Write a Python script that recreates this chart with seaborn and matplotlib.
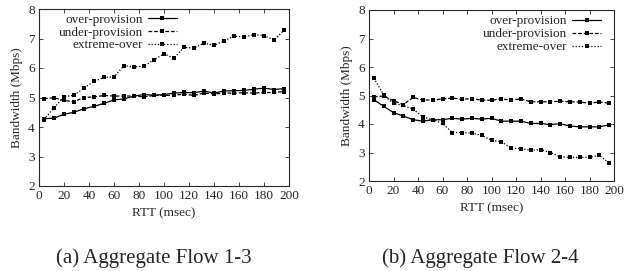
import numpy as np
import pandas as pd
import seaborn as sns
import matplotlib
matplotlib.use("Agg")
import matplotlib.pyplot as plt

rtt = [4, 12, 20, 28, 36, 44, 52, 60, 68, 76, 84, 92, 100, 108, 116, 124,
       132, 140, 148, 156, 164, 172, 180, 188, 196]

a_over = [4.28, 4.30, 4.43, 4.50, 4.62, 4.70, 4.80, 4.92, 4.95, 5.05, 5.10, 5.08, 5.10,
          5.15, 5.17, 5.16, 5.22, 5.15, 5.22, 5.23, 5.24, 5.28, 5.32, 5.27, 5.30]
a_under = [4.96, 4.99, 4.90, 4.86, 5.00, 5.02, 5.07, 5.05, 5.05, 5.05, 5.02, 5.07, 5.07,
           5.08, 5.11, 5.07, 5.15, 5.12, 5.15, 5.15, 5.16, 5.15, 5.17, 5.17, 5.20]
a_extreme = [4.25, 4.65, 5.02, 5.08, 5.32, 5.55, 5.68, 5.70, 6.08, 6.04, 6.06, 6.28, 6.48,
             6.33, 6.70, 6.68, 6.84, 6.77, 6.92, 7.08, 7.05, 7.13, 7.10, 6.95, 7.28]

b_over = [4.85, 4.62, 4.40, 4.28, 4.15, 4.10, 4.15, 4.15, 4.20, 4.17, 4.20, 4.17, 4.20,
          4.10, 4.10, 4.10, 4.02, 4.02, 3.98, 4.01, 3.93, 3.90, 3.90, 3.90, 3.97]
b_under = [4.96, 4.98, 4.82, 4.68, 4.93, 4.84, 4.84, 4.88, 4.91, 4.87, 4.89, 4.84, 4.83,
           4.88, 4.84, 4.88, 4.78, 4.78, 4.78, 4.80, 4.78, 4.77, 4.73, 4.77, 4.73]
b_extreme = [5.61, 5.02, 4.72, 4.65, 4.52, 4.25, 4.15, 4.02, 3.70, 3.70, 3.68, 3.60, 3.43,
             3.38, 3.15, 3.13, 3.08, 3.10, 3.00, 2.85, 2.83, 2.83, 2.83, 2.90, 2.62]

series_names = ["over-provision", "under-provision", "extreme-over"]
captions = ["(a) Aggregate Flow 1-3", "(b) Aggregate Flow 2-4"]
x_ticks = [0, 20, 40, 60, 80, 100, 120, 140, 160, 180, 200]
y_ticks = [2, 3, 4, 5, 6, 7, 8]

sns.set_style("ticks")
plt.rcParams["font.family"] = ["Liberation Serif", "DejaVu Serif"]
plt.rcParams["xtick.direction"] = "in"
plt.rcParams["ytick.direction"] = "in"


def make_df(vals):
    rows = []
    for name, v in zip(series_names, vals):
        for x, y in zip(rtt, v):
            rows.append({"RTT": x, "BW": y, "series": name})
    return pd.DataFrame(rows)


fig = plt.figure(figsize=(6.24, 2.71), dpi=100)
W, H = 624, 271
ax_a = fig.add_axes([39 / W, 1 - 186 / H, 250 / W, 177 / H])
ax_b = fig.add_axes([369 / W, 1 - 181 / H, 245 / W, 171 / H])

dashes = {"over-provision": "", "under-provision": (3, 1.5), "extreme-over": (1, 1.5)}
markers = {"over-provision": "s", "under-provision": "s", "extreme-over": "s"}
palette = {n: "black" for n in series_names}

FS = 9.5
for ax, vals, anchor in [
    (ax_a, [a_over, a_under, a_extreme], (0.552, 0.975)),
    (ax_b, [b_over, b_under, b_extreme], (0.947, 0.97)),
]:
    df = make_df(vals)
    sns.lineplot(data=df, x="RTT", y="BW", hue="series", style="series",
                 palette=palette, dashes=dashes, markers=markers,
                 markersize=2.2, linewidth=0.9, ax=ax, markeredgewidth=0)
    ax.set_xlim(0, 200)
    ax.set_ylim(2, 8)
    ax.set_xticks(x_ticks)
    ax.set_yticks(y_ticks)
    ax.tick_params(labelsize=FS, length=3, width=0.6, top=True, right=True, pad=3)
    ax.set_xlabel("RTT (msec)", fontsize=FS, labelpad=4)
    ax.set_ylabel("Bandwidth (Mbps)", fontsize=FS, labelpad=4)
    for s in ax.spines.values():
        s.set_linewidth(0.8)
        s.set_visible(True)
    leg = ax.legend(loc="upper right", bbox_to_anchor=anchor, frameon=False, markerfirst=False,
                    fontsize=FS, handlelength=2.2, handletextpad=0.4,
                    labelspacing=0.05, borderaxespad=0, borderpad=0)

fig.text(154 / W, 1 - 263 / H, captions[0], ha="center", va="baseline", fontsize=15)
fig.text(480 / W, 1 - 263 / H, captions[1], ha="center", va="baseline", fontsize=15)

fig.savefig("out.png", dpi=100)
